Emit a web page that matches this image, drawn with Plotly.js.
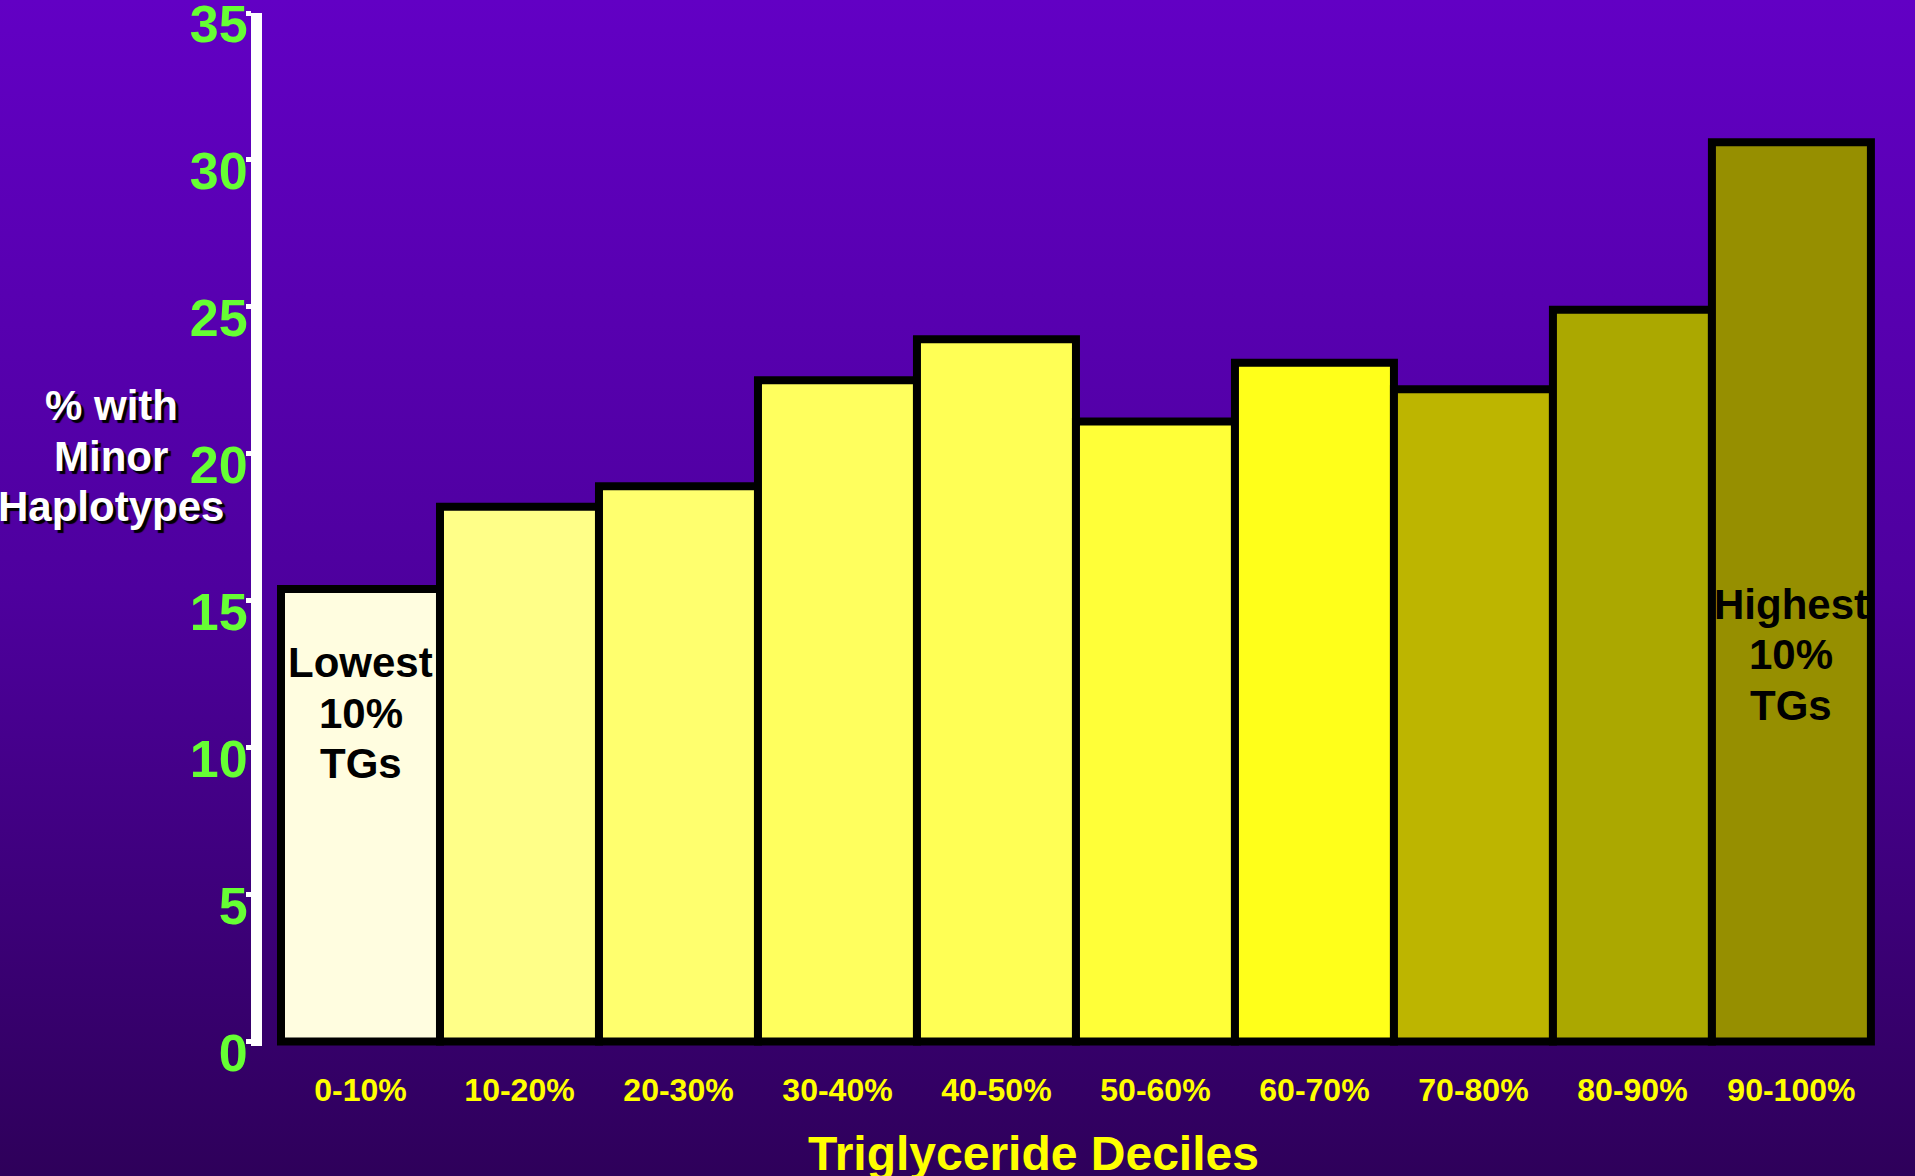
<!DOCTYPE html>
<html>
<head>
<meta charset="utf-8">
<script src="https://cdn.plot.ly/plotly-3.0.1.min.js"></script>
<style>
  html, body { margin: 0; padding: 0; }
  body {
    width: 1915px; height: 1176px; overflow: hidden;
    background: linear-gradient(to bottom, #6200C4 0%, #4E009E 50%, #2E005A 100%);
  }
  #chart { width: 1915px; height: 1176px; }
</style>
</head>
<body>
<div id="chart"></div>
<script>
// Share of subjects carrying minor haplotypes, by triglyceride decile
const deciles = ["0-10%", "10-20%", "20-30%", "30-40%", "40-50%",
                 "50-60%", "60-70%", "70-80%", "80-90%", "90-100%"];
const pctMinor = [15.4, 18.2, 18.9, 22.5, 23.9, 21.1, 23.1, 22.2, 24.9, 30.6];
const barColors = ["#FFFDE0", "#FFFF88", "#FFFF6E", "#FFFF5E", "#FFFF55",
                   "#FFFF38", "#FFFF1A", "#BDB500", "#ABA800", "#968F00"];
const yTicks = [0, 5, 10, 15, 20, 25, 30, 35];
const yTitleLines = ["% with", "Minor", "Haplotypes"];
const lowLines = ["Lowest", "10%", "TGs"];
const highLines = ["Highest", "10%", "TGs"];

const W = 1915, H = 1176;
const M = { l: 262, r: 39, t: 13, b: 130 };
const plotW = W - M.l - M.r, plotH = H - M.t - M.b;
const FONT = '"Liberation Sans", Arial, Helvetica, sans-serif';

// pixel -> paper helpers for free-standing text
const paperX = px => (px - M.l) / plotW;
const paperY = py => (H - M.b - py) / plotH;

const annotations = [];

// vertical axis caption, three centred lines with a drop shadow
yTitleLines.forEach((t, i) => {
  annotations.push({
    text: "<b>" + t + "</b>", showarrow: false,
    xref: "paper", yref: "paper",
    x: paperX(111), y: paperY(405 + i * 51),
    xanchor: "center", yanchor: "middle",
    font: { family: FONT, size: 42, color: "#FFFFFF", shadow: "3px 3px 1px #000000" }
  });
});

// labels inside the first and last bars
lowLines.forEach((t, i) => {
  annotations.push({
    text: "<b>" + t + "</b>", showarrow: false,
    xref: "x", yref: "y", x: deciles[0], y: 12.91 - i * 1.73,
    xanchor: "center", yanchor: "middle",
    font: { family: FONT, size: 42, color: "#000000" }
  });
});
highLines.forEach((t, i) => {
  annotations.push({
    text: "<b>" + t + "</b>", showarrow: false,
    xref: "x", yref: "y", x: deciles[9], y: 14.88 - i * 1.72,
    xanchor: "center", yanchor: "middle",
    font: { family: FONT, size: 42, color: "#000000" }
  });
});

// horizontal axis caption
annotations.push({
  text: "<b>Triglyceride Deciles</b>", showarrow: false,
  xref: "paper", yref: "paper",
  x: paperX(1033), y: paperY(1153),
  xanchor: "center", yanchor: "middle",
  font: { family: FONT, size: 48, color: "#FFFF00" }
});

const trace = {
  type: "bar",
  x: deciles,
  y: pctMinor,
  marker: { color: barColors, line: { color: "#000000", width: 8 } },
  hoverinfo: "x+y"
};

const layout = {
  width: W, height: H,
  margin: M,
  paper_bgcolor: "rgba(0,0,0,0)",
  plot_bgcolor: "rgba(0,0,0,0)",
  showlegend: false,
  bargap: 0,
  xaxis: {
    type: "category",
    range: [-0.6195, 9.532],
    showline: false, showgrid: false, zeroline: false,
    ticks: "", ticklabelstandoff: 22,
    tickfont: { family: FONT, size: 32, color: "#FFFF00", weight: "bold" }
  },
  yaxis: {
    range: [-0.15, 35],
    tickvals: yTicks,
    showline: true, linecolor: "#FFFFFF", linewidth: 11,
    ticks: "outside", ticklen: 5, tickwidth: 5, tickcolor: "#FFFFFF",
    showgrid: false, zeroline: false,
    ticklabelshift: 11,
    ticklabelstandoff: -12,
    ticklabeloverflow: "allow",
    tickfont: { family: FONT, size: 52, color: "#66FF33", weight: "bold" }
  },
  annotations: annotations
};

Plotly.newPlot("chart", [trace], layout, { staticPlot: true, displayModeBar: false });
</script>
</body>
</html>
